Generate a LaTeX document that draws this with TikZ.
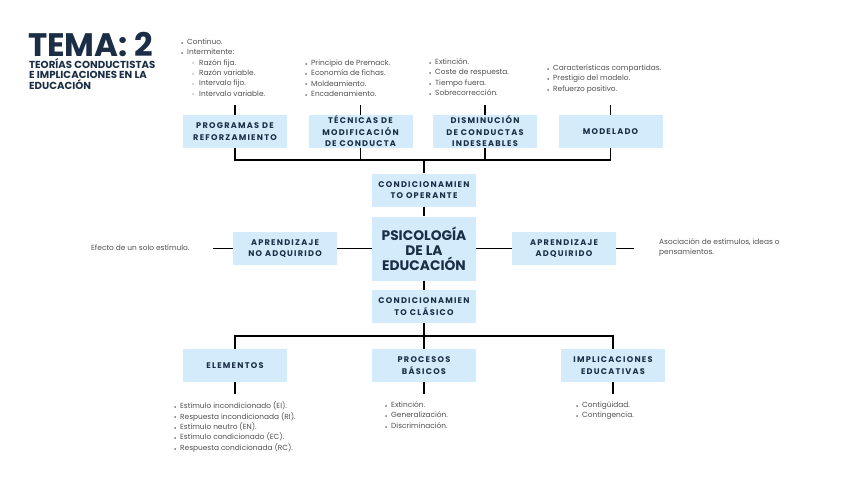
\documentclass[tikz,border=0pt]{standalone}
\usepackage{fontspec}
\usepackage{graphicx}
\setmainfont{Poppins}
\newfontfamily\boxfont[LetterSpace=15]{Poppins}
\newfontfamily\titlefont{Poppins}
\definecolor{boxblue}{HTML}{D3EBFB}
\definecolor{navy}{HTML}{1B2E45}
\definecolor{listgray}{HTML}{4F4F4F}
\newcommand{\bul}{\makebox[6pt][l]{\raisebox{0.05ex}{\scalebox{0.55}{$\bullet$}}}}
\newcommand{\subbul}{\hspace*{11pt}\makebox[7pt][l]{\raisebox{0.1ex}{\scalebox{0.6}{$\circ$}}}}
\begin{document}
\begin{tikzpicture}[x=1pt,y=-1pt,
  box/.style={fill=boxblue, minimum width=104pt, minimum height=33pt, inner sep=0pt, align=center,
    font=\boxfont\bfseries\fontsize{8.2}{11.5}\selectfont, text=navy},
  bigbox/.style={box, minimum height=64pt, font=\titlefont\bfseries\fontsize{13.8}{15}\selectfont},
  listtxt/.style={anchor=north west, inner sep=0pt, align=left, text=listgray,
    font=\fontsize{7.4}{10.4}\selectfont},
  conn/.style={draw=black, line width=1.8pt}
]
\useasboundingbox (0,0) rectangle (848,477);

% title
\node[anchor=base west, inner sep=0pt, text=navy, font=\titlefont\bfseries\fontsize{32.5}{32}\selectfont] (tema) at (28,56.5) {TEMA: 2};
\node[anchor=north west, inner sep=0pt, text=navy, align=left, font=\titlefont\bfseries\fontsize{10.2}{10}\selectfont] (sub) at (29,61.5) {TEOR\smash{Í}AS CONDUCTISTAS\\E IMPLICACIONES EN LA\\EDUCACIÓN};

% boxes
\node[box] (prog) at (235,131.5) {PROGRAMAS DE\\REFORZAMIENTO};
\node[box] (tec) at (360.5,131.5) {TÉCNICAS DE\\MODIFICACIÓN\\DE CONDUCTA};
\node[box] (dis) at (485,131.5) {DISMINUCIÓN\\DE CONDUCTAS\\INDESEABLES};
\node[box] (mod) at (610.5,131.5) {MODELADO};
\node[box] (op) at (424,190) {CONDICIONAMIEN\\TO OPERANTE};
\node[bigbox] (psi) at (424,248.5) {PSICOLOGÍA\\DE LA\\EDUCACIÓN};
\node[box] (cl) at (424,306.5) {CONDICIONAMIEN\\TO CLÁSICO};
\node[box] (noad) at (285,248.5) {APRENDIZAJE\\NO ADQUIRIDO};
\node[box] (ad) at (564,248.5) {APRENDIZAJE\\ADQUIRIDO};
\node[box] (ele) at (235,365.5) {ELEMENTOS};
\node[box] (pro) at (424,365.5) {PROCESOS\\BÁSICOS};
\node[box] (imp) at (613,365.5) {IMPLICACIONES\\EDUCATIVAS};

% connector coordinates
\coordinate (topbar) at (424,160);
\coordinate (botbar) at (424,336);
\coordinate (progt) at (235,105);
\coordinate (tect) at (360.5,105);
\coordinate (dist) at (485,105);
\coordinate (modt) at (610.5,105);
\coordinate (noadl) at (213,248.5);
\coordinate (adr) at (634,248.5);
\coordinate (eleb) at (235,394);
\coordinate (prob) at (424,394);
\coordinate (impb) at (613,394);

% connectors
\draw[conn] (prog.south) |- (topbar) -| (mod.south);
\draw[conn] (tec.south) -- (tec.south |- topbar);
\draw[conn] (dis.south) -- (dis.south |- topbar);
\draw[conn] (op.north) -- (topbar);
\draw[conn] (prog.north) -- (progt);
\draw[conn] (tec.north) -- (tect);
\draw[conn] (dis.north) -- (dist);
\draw[conn] (mod.north) -- (modt);
\draw[conn] (op.south) -- (psi.north);
\draw[conn] (psi.south) -- (cl.north);
\draw[conn] (psi.west) -- (noad.east);
\draw[conn] (psi.east) -- (ad.west);
\draw[conn] (noad.west) -- (noadl);
\draw[conn] (ad.east) -- (adr);
\draw[conn] (cl.south) -- (botbar);
\draw[conn] (ele.north) |- (botbar) -| (imp.north);
\draw[conn] (pro.north) -- (botbar);
\draw[conn] (ele.south) -- (eleb);
\draw[conn] (pro.south) -- (prob);
\draw[conn] (imp.south) -- (impb);

% lists
\node[listtxt] (l1) at (181,38.5) {\bul Continuo.\\\bul Intermitente:\\\subbul Razón fija.\\\subbul Razón variable.\\\subbul Intervalo fijo.\\\subbul Intervalo variable.};
\node[listtxt] (l2) at (305,59.5) {\bul Principio de Premack.\\\bul Economía de fichas.\\\bul Moldeamiento.\\\bul Encadenamiento.};
\node[listtxt] (l3) at (429,58.5) {\bul Extinción.\\\bul Coste de respuesta.\\\bul Tiempo fuera.\\\bul Sobrecorrección.};
\node[listtxt] (l4) at (547,64.5) {\bul Características compartidas.\\\bul Prestigio del modelo.\\\bul Refuerzo positivo.};
\node[listtxt, anchor=west] (efecto) at (91,248) {Efecto de un solo estímulo.};
\node[listtxt] (asoc) at (659,238.5) {Asociación de estímulos, ideas o\\pensamientos.};
\node[listtxt] (l5) at (174,401.5) {\bul Estímulo incondicionado (EI).\\\bul Respuesta incondicionada (RI).\\\bul Estímulo neutro (EN).\\\bul Estímulo condicionado (EC).\\\bul Respuesta condicionada (RC).};
\node[listtxt] (l6) at (385,401.5) {\bul Extinción.\\\bul Generalización.\\\bul Discriminación.};
\node[listtxt] (l7) at (576,401.5) {\bul Contigüidad.\\\bul Contingencia.};
\end{tikzpicture}
\end{document}
